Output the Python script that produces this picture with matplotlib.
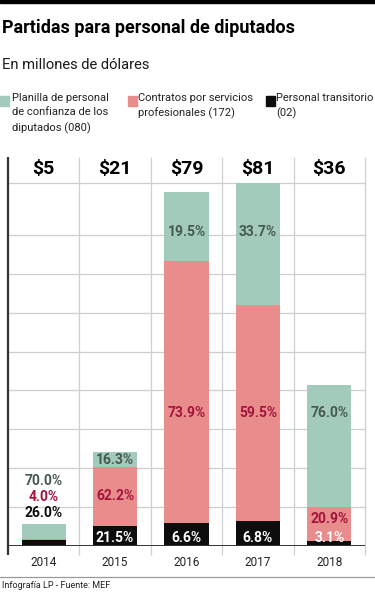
import numpy as np
import matplotlib.pyplot as plt
from matplotlib.patches import Rectangle
from matplotlib.lines import Line2D

years = ['2014', '2015', '2016', '2017', '2018']
totals = [5, 21, 79, 81, 36]
pct_planilla = [70.0, 16.3, 19.5, 33.7, 76.0]
pct_contratos = [4.0, 62.2, 73.9, 59.5, 20.9]
pct_transitorio = [26.0, 21.5, 6.6, 6.8, 3.1]

legend_labels = ['Planilla de personal\nde confianza de los\ndiputados (080)',
                 'Contratos por servicios\nprofesionales (172)',
                 'Personal transitorio\n(02)']

GREEN = '#a3cbbc'
PINK = '#e98c8c'
BLACK = '#0d0d0d'
GREEN_TXT = '#46594f'
PINK_TXT = '#a3143c'
GRID = '#cfcfcf'
COND = ['Liberation Sans Narrow', 'Roboto', 'DejaVu Sans']

totals = np.array(totals, dtype=float)
seg_black = totals * np.array(pct_transitorio) / 100
seg_pink = totals * np.array(pct_contratos) / 100
seg_green = totals * np.array(pct_planilla) / 100
x = np.arange(len(years))

fig = plt.figure(figsize=(3.75, 5.93), dpi=100)
ax = fig.add_axes([8/375, 47/593, 357/375, 389/593])
ymax = 86.8
ax.set_xlim(-0.5, 4.5)
ax.set_ylim(0, ymax)
for s in ax.spines.values():
    s.set_visible(False)
ax.set_yticks([])

# decorative grid
step = 8.68
for k in range(1, 9):
    ax.axhline(k * step, color=GRID, lw=0.9, zorder=0)
ax.axhline(max(totals), color=GRID, lw=0.9, zorder=0)
ax.vlines(np.arange(0.5, 5.0, 1.0), -2, ymax, color=GRID, lw=0.9, zorder=0, clip_on=False)
ax.vlines(-0.5, -2, ymax, color='#333333', lw=1.6, zorder=3, clip_on=False)
ax.axhline(0, color='#333333', lw=1.4, zorder=3)

w = 0.62
ax.bar(x, seg_black, w, color=BLACK, zorder=2)
ax.bar(x, seg_pink, w, bottom=seg_black, color=PINK, zorder=2)
ax.bar(x, seg_green, w, bottom=seg_black + seg_pink, color=GREEN, zorder=2)

lab = dict(ha='center', va='center', fontsize=10, fontweight='bold', family=COND, zorder=4)
for i in x:
    ax.text(i, 84.2, '$%d' % totals[i], ha='center', va='center', fontsize=14,
            fontweight='bold', family=COND)
    if totals[i] < 10:
        # small bar: labels stacked above it
        top = totals[i]
        ax.text(i, top + 2.4, '%.1f%%' % pct_transitorio[i], color=BLACK, **lab)
        ax.text(i, top + 5.9, '%.1f%%' % pct_contratos[i], color=PINK_TXT, **lab)
        ax.text(i, top + 9.5, '%.1f%%' % pct_planilla[i], color=GREEN_TXT, **lab)
        continue
    ax.text(i, 1.8, '%.1f%%' % pct_transitorio[i], color='white', **lab)
    yp = seg_black[i] + seg_pink[i] / 2
    if seg_pink[i] > 30:
        yp = 29.7
    ax.text(i, max(yp, 6.0), '%.1f%%' % pct_contratos[i], color=PINK_TXT, **lab)
    yg = seg_black[i] + seg_pink[i] + seg_green[i] / 2
    if pct_planilla[i] > 50:
        yg = 29.7
    elif seg_green[i] > 10:
        yg = 70.1
    ax.text(i, yg, '%.1f%%' % pct_planilla[i], color=GREEN_TXT, **lab)

ax.set_xticks(x)
ax.set_xticklabels(years, fontsize=8.5, family=COND, color='#222222')
ax.tick_params(axis='x', length=0, pad=7)

# header, legend, footer
fig.patches.append(Rectangle((0, 1 - 3/593), 1, 3/593, transform=fig.transFigure,
                             color='black', zorder=5))
fig.text(2/375, 1 - 28/593, 'Partidas para personal de diputados', fontsize=13,
         fontweight='bold', family=COND, va='center', ha='left')
fig.text(2/375, 1 - 65/593, 'En millones de dólares', fontsize=10.6, family=['Roboto'],
         va='center', ha='left', color='#1a1a1a')
sq_x = [0, 128, 266]
tx_x = [12, 138, 276]
for sx, tx, c, t in zip(sq_x, tx_x, [GREEN, PINK, BLACK], legend_labels):
    fig.patches.append(Rectangle((sx/375, 1 - 106/593), 9/375, 10/593,
                                 transform=fig.transFigure, color=c))
    fig.text(tx/375, 1 - 93/593, t, fontsize=8, family=COND, va='top', ha='left',
             linespacing=1.55, color='#222222')

fig.lines.append(Line2D([0, 1], [1 - 577/593, 1 - 577/593], transform=fig.transFigure,
                        color='#9a9a9a', lw=0.9))
fig.text(2/375, 1 - 586/593, 'Infografía LP - Fuente: MEF', fontsize=6.5, family=COND,
         va='center', ha='left', color='#222222')

fig.savefig('out.png', dpi=100)
